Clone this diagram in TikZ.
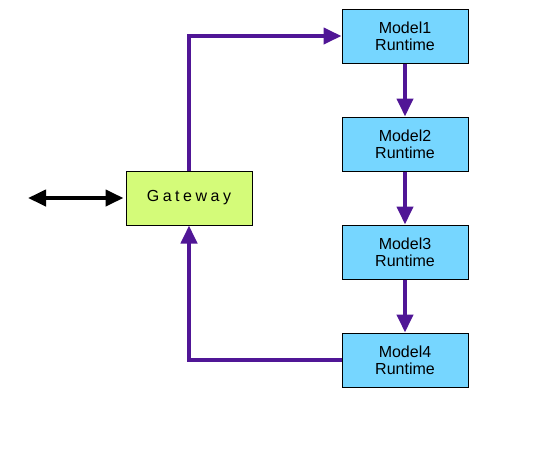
\documentclass[tikz,border=0pt]{standalone}
\usepackage{fontspec}
\setmainfont{Liberation Sans}
\usetikzlibrary{arrows.meta}
\definecolor{flowpurple}{RGB}{80,22,150}
\definecolor{modelcyan}{RGB}{118,214,255}
\definecolor{gatelime}{RGB}{212,251,121}
\tikzset{
  box/.style={draw=black, line width=1pt, minimum width=126pt, minimum height=54pt, inner sep=0pt, align=center, font=\fontsize{16}{17}\selectfont},
  modelbox/.style={box, fill=modelcyan},
  gatebox/.style={box, fill=gatelime},
  flow/.style={draw=flowpurple, line width=4pt, -{Triangle[length=18pt,width=16pt]}},
  ext/.style={draw=black, line width=4pt, {Triangle[length=18pt,width=16pt]}-{Triangle[length=18pt,width=16pt]}}
}
\begin{document}
\begin{tikzpicture}[x=1pt,y=-1pt]
\useasboundingbox (0,0) rectangle (540,459);
\node[gatebox] (gw) at (189,198) {\addfontfeatures{LetterSpace=22}Gateway};
\node[modelbox] (m1) at (405,36) {Model1\\Runtime};
\node[modelbox] (m2) at (405,144) {Model2\\Runtime};
\node[modelbox] (m3) at (405,252) {Model3\\Runtime};
\node[modelbox] (m4) at (405,360) {Model4\\Runtime};
\coordinate (extl) at (28,198);
\draw[flow] (gw.north) |- (m1.west);
\draw[flow] (m1.south) -- (m2.north);
\draw[flow] (m2.south) -- (m3.north);
\draw[flow] (m3.south) -- (m4.north);
\draw[flow] (m4.west) -| (gw.south);
\draw[ext] (extl) -- ([xshift=-2pt]gw.west);
\end{tikzpicture}
\end{document}
